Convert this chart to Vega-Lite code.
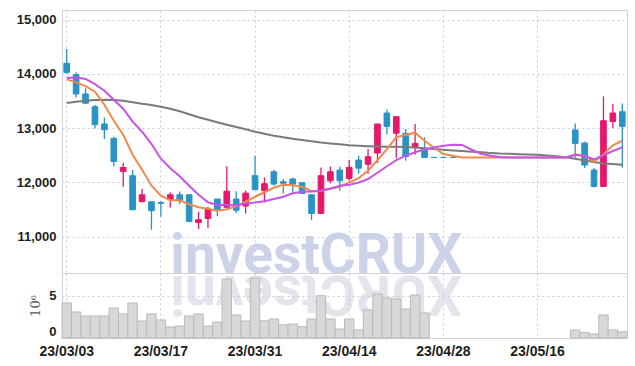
{
  "$schema": "https://vega.github.io/schema/vega-lite/v6.json",
  "padding": {"left": 15, "top": 9, "right": 5, "bottom": 5},
  "spacing": 0,
  "bounds": "flush",
  "config": {
    "view": {"stroke": "#d0d1da"},
    "axis": {
      "labelFont": "Liberation Sans",
      "labelFontWeight": "bold",
      "labelColor": "#1e1e1e",
      "ticks": false,
      "domain": false,
      "gridColor": "#c8cade",
      "gridDash": [2, 3],
      "gridWidth": 1
    }
  },
  "datasets": {
    "candles": [
      {"d": "23/03/03", "o": 14196, "h": 14461, "l": 14000, "c": 14030, "v": 4140000, "ma5": 13900, "ma10": 13926, "ma60": 13465},
      {"d": "23/03/06", "o": 13987, "h": 14030, "l": 13568, "c": 13631, "v": 3070000, "ma5": 13845, "ma10": 13937, "ma60": 13489},
      {"d": "23/03/07", "o": 13631, "h": 13738, "l": 13450, "c": 13461, "v": 2600000, "ma5": 13775, "ma10": 13908, "ma60": 13507},
      {"d": "23/03/08", "o": 13397, "h": 13428, "l": 12996, "c": 13065, "v": 2600000, "ma5": 13673, "ma10": 13812, "ma60": 13520},
      {"d": "23/03/09", "o": 13078, "h": 13199, "l": 12801, "c": 12972, "v": 2600000, "ma5": 13434, "ma10": 13692, "ma60": 13526},
      {"d": "23/03/10", "o": 12812, "h": 12843, "l": 12295, "c": 12387, "v": 3550000, "ma5": 13138, "ma10": 13526, "ma60": 13522},
      {"d": "23/03/13", "o": 12203, "h": 12363, "l": 11921, "c": 12277, "v": 2840000, "ma5": 12880, "ma10": 13360, "ma60": 13507},
      {"d": "23/03/14", "o": 12124, "h": 12229, "l": 11490, "c": 11496, "v": 4140000, "ma5": 12511, "ma10": 13120, "ma60": 13480},
      {"d": "23/03/15", "o": 11649, "h": 11878, "l": 11631, "c": 11773, "v": 2010000, "ma5": 12234, "ma10": 12935, "ma60": 13452},
      {"d": "23/03/16", "o": 11644, "h": 11644, "l": 11127, "c": 11478, "v": 2840000, "ma5": 11939, "ma10": 12708, "ma60": 13428},
      {"d": "23/03/17", "o": 11630, "h": 11655, "l": 11367, "c": 11615, "v": 2130000, "ma5": 11755, "ma10": 12437, "ma60": 13397},
      {"d": "23/03/20", "o": 11681, "h": 11816, "l": 11539, "c": 11773, "v": 1300000, "ma5": 11672, "ma10": 12262, "ma60": 13360},
      {"d": "23/03/21", "o": 11773, "h": 11834, "l": 11601, "c": 11662, "v": 1420000, "ma5": 11672, "ma10": 12114, "ma60": 13314},
      {"d": "23/03/22", "o": 11773, "h": 11773, "l": 11280, "c": 11280, "v": 2600000, "ma5": 11598, "ma10": 11939, "ma60": 13258},
      {"d": "23/03/23", "o": 11262, "h": 11459, "l": 11140, "c": 11312, "v": 2840000, "ma5": 11542, "ma10": 11773, "ma60": 13203},
      {"d": "23/03/24", "o": 11336, "h": 11552, "l": 11159, "c": 11509, "v": 1420000, "ma5": 11515, "ma10": 11635, "ma60": 13157},
      {"d": "23/03/27", "o": 11694, "h": 11694, "l": 11376, "c": 11496, "v": 1890000, "ma5": 11478, "ma10": 11583, "ma60": 13111},
      {"d": "23/03/28", "o": 11542, "h": 12299, "l": 11540, "c": 11838, "v": 6970000, "ma5": 11506, "ma10": 11583, "ma60": 13065},
      {"d": "23/03/29", "o": 11694, "h": 11838, "l": 11432, "c": 11487, "v": 2720000, "ma5": 11561, "ma10": 11579, "ma60": 13022},
      {"d": "23/03/30", "o": 11565, "h": 11852, "l": 11428, "c": 11804, "v": 2010000, "ma5": 11644, "ma10": 11613, "ma60": 12982},
      {"d": "23/03/31", "o": 12124, "h": 12493, "l": 11860, "c": 11865, "v": 7090000, "ma5": 11736, "ma10": 11631, "ma60": 12935},
      {"d": "23/04/03", "o": 11847, "h": 12092, "l": 11631, "c": 11976, "v": 2040000, "ma5": 11819, "ma10": 11653, "ma60": 12899},
      {"d": "23/04/04", "o": 12197, "h": 12234, "l": 11939, "c": 11970, "v": 2250000, "ma5": 11902, "ma10": 11694, "ma60": 12862},
      {"d": "23/04/05", "o": 12013, "h": 12063, "l": 11797, "c": 11985, "v": 1570000, "ma5": 11958, "ma10": 11736, "ma60": 12834},
      {"d": "23/04/06", "o": 12063, "h": 12092, "l": 11816, "c": 11970, "v": 1650000, "ma5": 11948, "ma10": 11801, "ma60": 12806},
      {"d": "23/04/07", "o": 11995, "h": 11995, "l": 11786, "c": 11797, "v": 1340000, "ma5": 11921, "ma10": 11828, "ma60": 12782},
      {"d": "23/04/10", "o": 11773, "h": 11773, "l": 11306, "c": 11428, "v": 2250000, "ma5": 11838, "ma10": 11834, "ma60": 12760},
      {"d": "23/04/11", "o": 11428, "h": 12277, "l": 11417, "c": 12124, "v": 5000000, "ma5": 11847, "ma10": 11847, "ma60": 12738},
      {"d": "23/04/12", "o": 12031, "h": 12295, "l": 11982, "c": 12197, "v": 2250000, "ma5": 11884, "ma10": 11889, "ma60": 12720},
      {"d": "23/04/13", "o": 12229, "h": 12290, "l": 11847, "c": 12031, "v": 1060000, "ma5": 11921, "ma10": 11939, "ma60": 12705},
      {"d": "23/04/14", "o": 12074, "h": 12413, "l": 12031, "c": 12277, "v": 2250000, "ma5": 12000, "ma10": 11958, "ma60": 12686},
      {"d": "23/04/17", "o": 12413, "h": 12493, "l": 12161, "c": 12262, "v": 950000, "ma5": 12081, "ma10": 12000, "ma60": 12677},
      {"d": "23/04/18", "o": 12336, "h": 12616, "l": 12161, "c": 12474, "v": 3310000, "ma5": 12216, "ma10": 12063, "ma60": 12668},
      {"d": "23/04/19", "o": 12542, "h": 13078, "l": 12358, "c": 13078, "v": 5200000, "ma5": 12410, "ma10": 12179, "ma60": 12662},
      {"d": "23/04/20", "o": 13280, "h": 13347, "l": 12889, "c": 13033, "v": 4730000, "ma5": 12613, "ma10": 12299, "ma60": 12659},
      {"d": "23/04/21", "o": 12908, "h": 13212, "l": 12447, "c": 13212, "v": 4610000, "ma5": 12834, "ma10": 12410, "ma60": 12659},
      {"d": "23/04/24", "o": 12904, "h": 12985, "l": 12400, "c": 12480, "v": 3430000, "ma5": 12875, "ma10": 12493, "ma60": 12653},
      {"d": "23/04/25", "o": 12640, "h": 13078, "l": 12511, "c": 12720, "v": 5080000, "ma5": 12917, "ma10": 12557, "ma60": 12646},
      {"d": "23/04/26", "o": 12598, "h": 12834, "l": 12461, "c": 12461, "v": 2960000, "ma5": 12769, "ma10": 12613, "ma60": 12631},
      {"d": "23/04/27", "o": 12461, "h": 12461, "l": 12461, "c": 12461, "v": null, "ma5": 12640, "ma10": 12646, "ma60": 12618},
      {"d": "23/04/28", "o": 12461, "h": 12461, "l": 12461, "c": 12461, "v": null, "ma5": 12524, "ma10": 12677, "ma60": 12603},
      {"d": "23/05/02", "o": 12461, "h": 12461, "l": 12461, "c": 12461, "v": null, "ma5": 12493, "ma10": 12696, "ma60": 12590},
      {"d": "23/05/03", "o": null, "h": null, "l": null, "c": null, "v": null, "ma5": 12461, "ma10": 12692, "ma60": 12579},
      {"d": "23/05/04", "o": null, "h": null, "l": null, "c": null, "v": null, "ma5": 12461, "ma10": 12603, "ma60": 12566},
      {"d": "23/05/08", "o": null, "h": null, "l": null, "c": null, "v": null, "ma5": 12461, "ma10": 12529, "ma60": 12555},
      {"d": "23/05/09", "o": null, "h": null, "l": null, "c": null, "v": null, "ma5": 12461, "ma10": 12493, "ma60": 12544},
      {"d": "23/05/10", "o": null, "h": null, "l": null, "c": null, "v": null, "ma5": 12461, "ma10": 12470, "ma60": 12535},
      {"d": "23/05/11", "o": null, "h": null, "l": null, "c": null, "v": null, "ma5": 12461, "ma10": 12461, "ma60": 12530},
      {"d": "23/05/12", "o": null, "h": null, "l": null, "c": null, "v": null, "ma5": 12461, "ma10": 12461, "ma60": 12522},
      {"d": "23/05/15", "o": null, "h": null, "l": null, "c": null, "v": null, "ma5": 12461, "ma10": 12461, "ma60": 12517},
      {"d": "23/05/16", "o": null, "h": null, "l": null, "c": null, "v": null, "ma5": 12461, "ma10": 12461, "ma60": 12511},
      {"d": "23/05/17", "o": null, "h": null, "l": null, "c": null, "v": null, "ma5": 12461, "ma10": 12461, "ma60": 12498},
      {"d": "23/05/18", "o": null, "h": null, "l": null, "c": null, "v": null, "ma5": 12461, "ma10": 12461, "ma60": 12483},
      {"d": "23/05/19", "o": null, "h": null, "l": null, "c": null, "v": null, "ma5": 12461, "ma10": 12461, "ma60": 12465},
      {"d": "23/05/22", "o": 12967, "h": 13089, "l": 12461, "c": 12720, "v": 950000, "ma5": 12520, "ma10": 12507, "ma60": 12437},
      {"d": "23/05/23", "o": 12727, "h": 12751, "l": 12266, "c": 12321, "v": 660000, "ma5": 12487, "ma10": 12493, "ma60": 12404},
      {"d": "23/05/24", "o": 12229, "h": 12266, "l": 11908, "c": 11926, "v": 470000, "ma5": 12387, "ma10": 12424, "ma60": 12376},
      {"d": "23/05/25", "o": 11926, "h": 13587, "l": 11920, "c": 13138, "v": 2720000, "ma5": 12520, "ma10": 12502, "ma60": 12351},
      {"d": "23/05/26", "o": 13125, "h": 13447, "l": 13004, "c": 13280, "v": 950000, "ma5": 12686, "ma10": 12579, "ma60": 12338},
      {"d": "23/05/30", "o": 13304, "h": 13458, "l": 12277, "c": 13033, "v": 740000, "ma5": 12769, "ma10": 12646, "ma60": 12327}
    ],
    "mark": [{"name": "investCRUX"}]
  },
  "vconcat": [
    {
      "width": 565,
      "height": 263,
      "layer": [
        {
          "data": {"name": "mark"},
          "mark": {"type": "text", "text": "investCRUX", "font": "Roboto", "fontWeight": "bold", "fontSize": 55, "color": "#ccd2e7", "align": "center", "baseline": "alphabetic"},
          "encoding": {
            "x": {"datum": "23/04/11", "type": "ordinal", "bandPosition": 0},
            "y": {"datum": 10330, "type": "quantitative"}
          }
        },
        {
          "data": {"name": "mark"},
          "mark": {"type": "text", "text": "XURCtsevni", "angle": 180, "font": "Roboto", "fontWeight": "bold", "fontSize": 55, "color": "#e3e4ec", "align": "center", "baseline": "alphabetic"},
          "encoding": {
            "x": {"datum": "23/04/11", "type": "ordinal", "bandPosition": 0},
            "y": {"datum": 10280, "type": "quantitative"}
          }
        },
        {
          "data": {"name": "candles"},
          "mark": {"type": "rule", "strokeWidth": 1.3},
          "encoding": {
            "x": {"field": "d", "type": "ordinal", "bandPosition": 0.5},
            "y": {"field": "l", "type": "quantitative", "title": null},
            "y2": {"field": "h"},
            "color": {"condition": {"test": "datum.c > datum.o", "value": "#e5186b"}, "value": "#2a93c6"}
          }
        },
        {
          "data": {"name": "candles"},
          "mark": {"type": "bar", "width": {"band": 0.6}, "strokeWidth": 1},
          "encoding": {
            "x": {
              "field": "d", "type": "ordinal", "title": null,
              "scale": {"type": "band", "paddingInner": 0, "paddingOuter": 0, "domain": ["23/03/03","23/03/06","23/03/07","23/03/08","23/03/09","23/03/10","23/03/13","23/03/14","23/03/15","23/03/16","23/03/17","23/03/20","23/03/21","23/03/22","23/03/23","23/03/24","23/03/27","23/03/28","23/03/29","23/03/30","23/03/31","23/04/03","23/04/04","23/04/05","23/04/06","23/04/07","23/04/10","23/04/11","23/04/12","23/04/13","23/04/14","23/04/17","23/04/18","23/04/19","23/04/20","23/04/21","23/04/24","23/04/25","23/04/26","23/04/27","23/04/28","23/05/02","23/05/03","23/05/04","23/05/08","23/05/09","23/05/10","23/05/11","23/05/12","23/05/15","23/05/16","23/05/17","23/05/18","23/05/19","23/05/22","23/05/23","23/05/24","23/05/25","23/05/26","23/05/30"]},
              "axis": {"labels": false, "ticks": false, "domain": false, "grid": true, "title": null, "minExtent": 0, "maxExtent": 0, "bandPosition": 0.5, "values": ["23/03/03","23/03/17","23/03/31","23/04/14","23/04/28","23/05/16"]}
            },
            "y": {
              "field": "o", "type": "quantitative", "title": null,
              "scale": {"domain": [10330, 15180], "nice": false, "zero": false},
              "axis": {"values": [11000, 12000, 13000, 14000, 15000], "format": ",d", "labelFontSize": 13, "labelPadding": 6, "grid": true, "title": null}
            },
            "y2": {"field": "c"},
            "color": {"condition": {"test": "datum.c > datum.o", "value": "#e5186b"}, "value": "#2a93c6"},
            "stroke": {"condition": {"test": "datum.c > datum.o", "value": "#e5186b"}, "value": "#2a93c6"}
          }
        },
        {
          "data": {"name": "candles"},
          "mark": {"type": "line", "color": "#7a7a7a", "strokeWidth": 2},
          "encoding": {
            "x": {"field": "d", "type": "ordinal", "bandPosition": 0.5},
            "y": {"field": "ma60", "type": "quantitative", "title": null}
          }
        },
        {
          "data": {"name": "candles"},
          "mark": {"type": "line", "color": "#f08a4c", "strokeWidth": 2},
          "encoding": {
            "x": {"field": "d", "type": "ordinal", "bandPosition": 0.5},
            "y": {"field": "ma5", "type": "quantitative", "title": null}
          }
        },
        {
          "data": {"name": "candles"},
          "mark": {"type": "line", "color": "#c653ea", "strokeWidth": 2},
          "encoding": {
            "x": {"field": "d", "type": "ordinal", "bandPosition": 0.5},
            "y": {"field": "ma10", "type": "quantitative", "title": null}
          }
        }
      ]
    },
    {
      "width": 565,
      "height": 65,
      "data": {"name": "candles"},
      "mark": {"type": "bar", "fill": "#d8d8d8", "stroke": "#bababa", "strokeWidth": 1},
      "encoding": {
        "x": {
          "field": "d", "type": "ordinal", "title": null,
          "scale": {"type": "band", "paddingInner": 0, "paddingOuter": 0, "domain": ["23/03/03","23/03/06","23/03/07","23/03/08","23/03/09","23/03/10","23/03/13","23/03/14","23/03/15","23/03/16","23/03/17","23/03/20","23/03/21","23/03/22","23/03/23","23/03/24","23/03/27","23/03/28","23/03/29","23/03/30","23/03/31","23/04/03","23/04/04","23/04/05","23/04/06","23/04/07","23/04/10","23/04/11","23/04/12","23/04/13","23/04/14","23/04/17","23/04/18","23/04/19","23/04/20","23/04/21","23/04/24","23/04/25","23/04/26","23/04/27","23/04/28","23/05/02","23/05/03","23/05/04","23/05/08","23/05/09","23/05/10","23/05/11","23/05/12","23/05/15","23/05/16","23/05/17","23/05/18","23/05/19","23/05/22","23/05/23","23/05/24","23/05/25","23/05/26","23/05/30"]},
          "axis": {"grid": true, "bandPosition": 0.5, "labelAngle": 0, "labelFontSize": 14, "labelPadding": 6, "title": null, "values": ["23/03/03","23/03/17","23/03/31","23/04/14","23/04/28","23/05/16"]}
        },
        "y": {
          "field": "v", "type": "quantitative",
          "scale": {"domain": [0, 7680000], "nice": false},
          "axis": {"values": [0, 5000000], "labelExpr": "datum.value / 1000000", "labelFontSize": 13, "labelPadding": 6, "labelFlush": true, "labelFlushOffset": 0, "grid": true, "minExtent": 13, "maxExtent": 13, "title": "10⁶", "titleFont": "DejaVu Serif", "titleFontWeight": "normal", "titleFontSize": 13, "titleColor": "#555555", "titlePadding": 7}
        }
      }
    }
  ]
}
